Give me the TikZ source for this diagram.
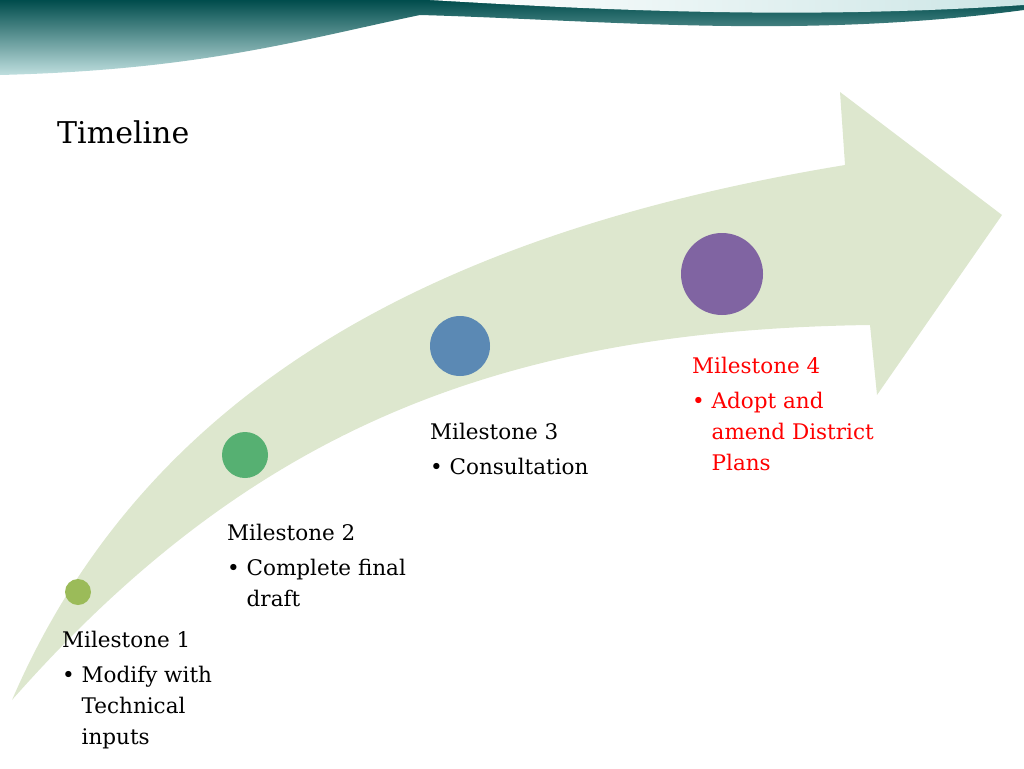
\documentclass[tikz,border=0pt]{standalone}
\usepackage{fontspec}
\setmainfont{DejaVu Serif}
\definecolor{arrowc}{RGB}{221,231,206}
\begin{document}
\begin{tikzpicture}[x=1pt,y=-1pt,
 lbl/.style={anchor=north west,align=left,font=\fontsize{21.5}{31}\selectfont,inner sep=0pt},
 dot/.style={circle,inner sep=0pt}]
\useasboundingbox (0,0) rectangle (1024,768);
% banner
\shade[top color=teal!60!black, bottom color=teal!25!white] (0,0) -- (1024,0) -- (1024,10) .. controls (800,40) and (600,20) .. (420,15) .. controls (300,40) and (200,70) .. (0,75) -- cycle;
\shade[left color=white, right color=teal!20] (430,0) .. controls (600,10) and (800,20) .. (1024,5) -- (1024,0) -- cycle;
\node[anchor=west,font=\fontsize{30}{34}\selectfont,inner sep=0pt] (t) at (57,132) {Timeline};
% arrow
\fill[arrowc] (12,700) .. controls (250,430) and (500,330) .. (870,325) -- (877,395) -- (1002,215) -- (840,92) -- (845,165) .. controls (450,230) and (150,380) .. (12,700) -- cycle;
\node[dot,fill={rgb,255:red,155;green,187;blue,89},minimum size=26] (m1) at (78,592) {};
\node[dot,fill={rgb,255:red,86;green,176;blue,114},minimum size=46] (m2) at (245,455) {};
\node[dot,fill={rgb,255:red,91;green,137;blue,180},minimum size=60] (m3) at (460,346) {};
\node[dot,fill={rgb,255:red,128;green,100;blue,162},minimum size=82] (m4) at (722,274) {};
\node[lbl] (l1) at (62,631) {Milestone 1\\[4pt]\textbullet\ Modify with\\\phantom{\textbullet\ }Technical\\\phantom{\textbullet\ }inputs};
\node[lbl] (l2) at (227,524) {Milestone 2\\[4pt]\textbullet\ Complete final\\\phantom{\textbullet\ }draft};
\node[lbl] (l3) at (430,423) {Milestone 3\\[4pt]\textbullet\ Consultation};
\node[lbl,text=red] (l4) at (692,357) {Milestone 4\\[4pt]\textbullet\ Adopt and\\\phantom{\textbullet\ }amend District\\\phantom{\textbullet\ }Plans};
\end{tikzpicture}
\end{document}
